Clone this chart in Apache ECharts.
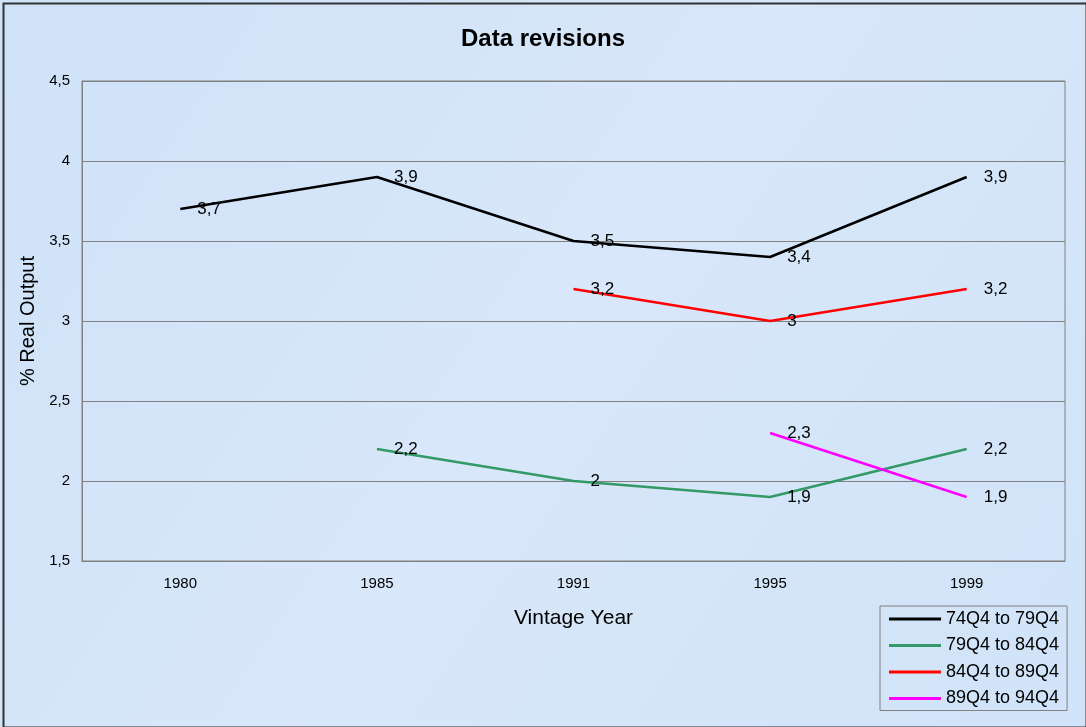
<!DOCTYPE html>
<html>
<head>
<meta charset="utf-8">
<script src="https://cdn.jsdelivr.net/npm/echarts@6/dist/echarts.min.js"></script>
<style>
html,body{margin:0;padding:0;background:#fff;}
#c{width:1086px;height:727px;}
</style>
</head>
<body>
<div id="c"></div>
<script>
const categories = ['1980', '1985', '1991', '1995', '1999'];
const s7479 = [3.7, 3.9, 3.5, 3.4, 3.9];
const s7984 = [null, 2.2, 2.0, 1.9, 2.2];
const s8489 = [null, null, 3.2, 3.0, 3.2];
const s8994 = [null, null, null, 2.3, 1.9];
const seriesNames = ['74Q4 to 79Q4', '79Q4 to 84Q4', '84Q4 to 89Q4', '89Q4 to 94Q4'];
const seriesColors = ['#000000', '#339966', '#ff0000', '#ff00ff'];
const seriesData = [s7479, s7984, s8489, s8994];

const comma = v => String(v).replace('.', ',');
const FONT = 'Liberation Sans, Arial, sans-serif';

const chart = echarts.init(document.getElementById('c'), null, {renderer: 'canvas'});
chart.setOption({
  backgroundColor: new echarts.graphic.LinearGradient(0, 0, 1, 1, [
    {offset: 0, color: '#cfe2f8'},
    {offset: 0.5, color: '#d8e7f9'},
    {offset: 1, color: '#d0e3f8'}
  ]),
  animation: false,
  textStyle: {fontFamily: FONT},
  graphic: [{
    type: 'rect', left: 1, top: 1, shape: {width: 1083, height: 724},
    style: {fill: 'none', stroke: '#333', lineWidth: 2}, silent: true
  }],
  title: {
    text: 'Data revisions', left: 'center', top: 22,
    textStyle: {fontFamily: FONT, fontSize: 24, fontWeight: 'bold', color: '#000'}
  },
  grid: {left: 82, right: 21, top: 81, bottom: 166, show: true, borderColor: '#808080', borderWidth: 1, backgroundColor: 'transparent'},
  legend: {
    orient: 'vertical', left: 880, top: 606,
    data: seriesNames,
    icon: 'rect', itemWidth: 52, itemHeight: 3, itemGap: 8.5,
    padding: [4, 8, 3, 9],
    borderColor: '#808080', borderWidth: 1, backgroundColor: 'transparent',
    textStyle: {fontFamily: FONT, fontSize: 18, color: '#000', lineHeight: 18}
  },
  xAxis: {
    type: 'category', data: categories, boundaryGap: true,
    name: 'Vintage Year', nameLocation: 'middle', nameGap: 47,
    nameTextStyle: {fontFamily: FONT, fontSize: 21, color: '#000'},
    axisLine: {show: true, lineStyle: {color: '#808080'}},
    axisTick: {show: false},
    axisLabel: {fontFamily: FONT, fontSize: 15, color: '#000', margin: 15}
  },
  yAxis: {
    type: 'value', min: 1.5, max: 4.5, interval: 0.5,
    name: '% Real Output', nameLocation: 'middle', nameGap: 37,
    nameTextStyle: {fontFamily: FONT, fontSize: 20, color: '#000'},
    axisLine: {show: true, lineStyle: {color: '#808080'}},
    axisTick: {show: false},
    splitLine: {show: true, lineStyle: {color: '#808080', width: 1}},
    axisLabel: {fontFamily: FONT, fontSize: 15, color: '#000', margin: 12, formatter: v => comma(v)}
  },
  series: seriesData.map((d, i) => ({
    name: seriesNames[i], type: 'line', data: d,
    symbol: 'circle', symbolSize: 0.1, showSymbol: true,
    itemStyle: {color: seriesColors[i]},
    color: seriesColors[i],
    lineStyle: {width: 2.5, color: seriesColors[i]},
    label: {
      show: true, position: 'right', distance: 17,
      fontFamily: FONT, fontSize: 17, color: '#000',
      formatter: p => comma(p.value)
    },
    emphasis: {disabled: true}
  }))
});
</script>
</body>
</html>
